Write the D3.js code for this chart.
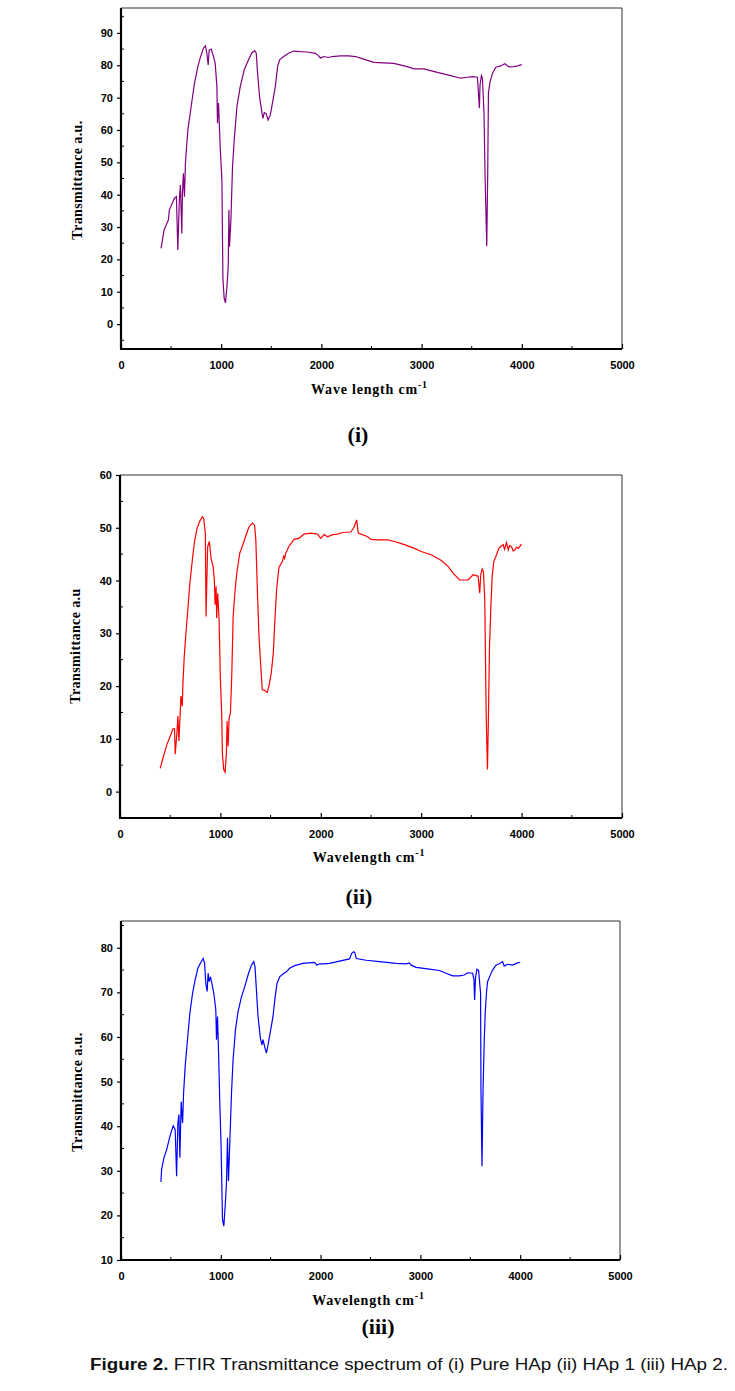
<!DOCTYPE html>
<html>
<head>
<meta charset="utf-8">
<style>
  body { margin: 0; background: #fff; }
  svg { display: block; }
  .tick text { font: bold 11px "Liberation Sans", Arial, sans-serif; fill: #000; }
  .ttl { font: bold 14px "Liberation Serif", "Times New Roman", serif; fill: #000; }
  .tag { font: bold 22px "Liberation Serif", "Times New Roman", serif; fill: #000; }
  .cap { font: 16px "Liberation Sans Narrow", "Arial Narrow", "Liberation Sans", Arial, sans-serif; fill: #111; }
</style>
<script src="https://d3js.org/d3.v7.min.js"></script>
</head>
<body>
<script>
// (i) Pure HAp
var waveI = [400,430,473,483,533,553,567,583,593,607,613,623,633,643,667,700,733,767,790,823,843,857,870,880,900,923,940,957,963,973,990,1007,1017,1030,1043,1057,1070,1077,1083,1097,1113,1130,1157,1190,1230,1273,1307,1333,1350,1363,1383,1407,1417,1430,1450,1467,1490,1517,1540,1563,1583,1623,1673,1723,1790,1857,1940,1973,1990,2023,2073,2107,2190,2273,2340,2390,2523,2723,2857,2923,3023,3157,3290,3390,3457,3507,3557,3577,3583,3597,3607,3623,3633,3650,3660,3667,3683,3707,3740,3790,3830,3873,3923,3957,4000];
var transI = [23.4,29.1,32.2,35.3,38.9,39.4,22.9,38.9,43.0,28.0,40.4,46.6,39.4,49.7,60.0,67.2,74.4,79.6,82.2,85.3,86.0,83.7,80.1,84.7,85.0,82.7,80.6,73.4,62.1,68.3,54.8,44.5,14.1,7.9,6.6,11.5,17.7,35.3,23.9,32.2,48.7,56.9,67.2,73.4,78.6,81.7,83.9,84.5,83.7,77.5,70.3,65.2,63.6,65.4,65.0,63.1,64.6,69.3,73.4,79.6,81.7,82.7,83.7,84.4,84.2,84.1,83.7,82.9,82.2,82.7,82.4,82.7,82.9,82.9,82.7,82.2,80.9,80.6,79.6,78.9,78.9,77.8,76.8,76.0,76.3,76.5,76.3,66.7,73.9,76.8,76.0,65.2,46.6,24.1,47.1,71.4,74.9,77.5,79.4,79.8,80.5,79.5,79.6,79.8,80.2];

// (ii) HAp 1
var waveII = [400,433,467,500,527,543,550,567,577,587,597,607,620,627,640,657,673,693,717,740,767,793,820,833,850,857,863,873,890,907,927,940,947,957,963,973,987,1000,1013,1020,1033,1047,1060,1067,1077,1087,1100,1113,1127,1147,1167,1193,1217,1250,1283,1317,1340,1353,1367,1383,1400,1417,1440,1467,1483,1507,1527,1543,1560,1583,1617,1630,1640,1650,1667,1680,1707,1733,1783,1833,1900,1967,2000,2033,2067,2117,2167,2217,2300,2333,2357,2373,2467,2500,2567,2667,2733,2833,2933,3000,3100,3200,3267,3317,3383,3467,3517,3567,3583,3593,3607,3620,3633,3647,3660,3670,3680,3693,3707,3723,3743,3773,3800,3817,3830,3850,3867,3880,3900,3915,3933,3950,3967,4000];
var transII = [4.4,6.7,8.9,10.5,11.9,11.9,7.1,11.2,14.3,9.6,13.7,18.1,16.2,20.6,25.6,30.1,33.8,38.9,43.3,47.1,49.9,51.2,52.1,51.8,49.0,33.2,38.3,46.4,47.4,44.2,42.7,40.1,35.4,38.9,32.9,37.6,32.6,21.2,14.6,7.1,4.2,3.7,7.4,13.4,8.6,14.0,14.9,21.9,33.2,38.3,42.0,45.2,46.4,48.3,50.1,50.9,50.5,47.7,38.9,30.1,24.4,19.3,19.2,18.8,20.0,22.5,26.3,32.6,38.3,42.5,43.6,44.6,44.2,45.2,45.8,46.4,47.1,47.8,48.0,48.8,49.0,48.8,48.0,48.7,48.3,48.7,48.8,49.1,49.2,50.2,51.5,49.0,48.3,47.8,47.7,47.7,47.4,46.8,46.1,45.5,44.9,43.8,42.7,41.4,40.1,40.1,41.1,40.8,37.6,41.1,42.2,41.7,36.4,14.6,4.2,14.6,27.2,34.5,40.8,43.6,44.5,46.1,46.6,46.8,45.9,47.2,45.8,46.6,46.4,45.6,45.8,46.3,46.1,46.9];

// (iii) HAp 2
var waveIII = [400,407,430,457,490,523,543,557,570,580,590,603,617,627,643,663,690,717,743,770,797,823,837,850,863,873,883,897,917,930,950,957,967,977,990,1003,1017,1030,1043,1057,1067,1077,1090,1107,1123,1147,1173,1207,1240,1273,1307,1330,1343,1357,1373,1397,1413,1423,1443,1457,1473,1500,1523,1543,1563,1590,1623,1657,1690,1740,1823,1940,1963,1990,2040,2090,2190,2290,2310,2330,2343,2357,2457,2590,2757,2857,2890,2907,2957,3090,3190,3257,3323,3390,3440,3473,3523,3537,3543,3553,3567,3583,3603,3607,3617,3627,3640,3650,3663,3673,3697,3723,3757,3790,3823,3840,3873,3923,3973,4000];
var transIII = [27.5,30.3,32.9,34.7,37.7,40.1,39.2,28.8,40.7,42.6,32.9,45.5,40.7,47.4,53.4,58.6,65.3,69.8,72.8,75.4,76.6,77.6,76.6,72.0,70.2,74.3,72.4,73.5,71.3,69.8,66.1,59.4,64.6,57.1,45.2,35.5,19.1,17.6,21.7,27.3,37.4,27.7,36.2,47.4,54.9,61.6,65.7,69.0,71.3,73.9,76.1,76.9,75.7,70.5,64.6,59.7,58.2,59.4,57.5,56.4,58.2,61.6,64.6,68.7,72.0,73.5,74.1,74.6,75.4,76.0,76.5,76.7,76.1,76.4,76.4,76.5,77.0,77.5,78.7,79.1,78.9,77.6,77.2,76.9,76.5,76.4,76.6,76.1,75.6,75.2,74.9,74.3,73.7,73.7,73.9,74.4,74.3,72.8,68.3,73.5,75.2,74.9,69.8,47.8,31.0,47.4,59.4,65.7,70.2,72.4,73.7,75.0,76.1,76.4,76.9,75.9,76.3,76.1,76.6,76.7];

var xTicks = [0, 1000, 2000, 3000, 4000, 5000];
var yTicksI = [0, 10, 20, 30, 40, 50, 60, 70, 80, 90];
var yTicksII = [0, 10, 20, 30, 40, 50, 60];
var yTicksIII = [10, 20, 30, 40, 50, 60, 70, 80];

var W = 735, H = 1391;
var svg = d3.select("body").append("svg").attr("width", W).attr("height", H);

var panels = [
  { wave: waveI, trans: transI, color: "#800080", yTicks: yTicksI,
    yDom: [-7.7, 97.7], xr: [121, 622], yr: [349, 8],
    xTitle: "Wave length cm", yTitle: "Transmittance a.u.", tag: "(i)",
    xtY: 394, ytX: 82, ytY: 180, tagX: 358, tagY: 442 },
  { wave: waveII, trans: transII, color: "#ff0000", yTicks: yTicksII,
    yDom: [-5, 60], xr: [120, 622], yr: [818, 475],
    xTitle: "Wavelength cm", yTitle: "Transmittance a.u", tag: "(ii)",
    xtY: 862, ytX: 80, ytY: 646, tagX: 359, tagY: 904 },
  { wave: waveIII, trans: transIII, color: "#0000ff", yTicks: yTicksIII,
    yDom: [10, 86], xr: [121, 620], yr: [1260, 921],
    xTitle: "Wavelength cm", yTitle: "Transmittance a.u.", tag: "(iii)",
    xtY: 1305, ytX: 82, ytY: 1092, tagX: 378, tagY: 1334 }
];

panels.forEach(function(p) {
  var x = d3.scaleLinear().domain([0, 5000]).range(p.xr);
  var y = d3.scaleLinear().domain(p.yDom).range(p.yr);
  var g = svg.append("g");

  // thin top / right frame
  g.append("path")
    .attr("d", "M" + x(0) + "," + y(p.yDom[1]) + "H" + x(5000) + "V" + y(p.yDom[0]))
    .attr("fill", "none").attr("stroke", "#333").attr("stroke-width", 1);

  // minor ticks (inside)
  var xMinor = d3.range(500, 5000, 1000);
  g.selectAll(".xm").data(xMinor).enter().append("line")
    .attr("x1", function(d) { return x(d); }).attr("x2", function(d) { return x(d); })
    .attr("y1", y(p.yDom[0])).attr("y2", y(p.yDom[0]) - 3)
    .attr("stroke", "#000").attr("stroke-width", 1);
  var yMinor = d3.range(Math.ceil(p.yDom[0] / 5) * 5, p.yDom[1], 5)
    .filter(function(v) { return v % 10 !== 0; });
  g.selectAll(".ym").data(yMinor).enter().append("line")
    .attr("x1", x(0)).attr("x2", x(0) + 3)
    .attr("y1", function(d) { return y(d); }).attr("y2", function(d) { return y(d); })
    .attr("stroke", "#000").attr("stroke-width", 1);

  // axes
  var xa = g.append("g").attr("transform", "translate(0," + y(p.yDom[0]) + ")")
    .call(d3.axisBottom(x).tickValues(xTicks).tickSize(-5).tickPadding(12).tickFormat(d3.format("d")));
  var ya = g.append("g").attr("transform", "translate(" + x(0) + ",0)")
    .call(d3.axisLeft(y).tickValues(p.yTicks).tickSize(4).tickPadding(4).tickFormat(d3.format("d")));
  [xa, ya].forEach(function(a) {
    a.select(".domain").attr("stroke", "#000").attr("stroke-width", 2.2);
    a.selectAll(".tick line").attr("stroke", "#000").attr("stroke-width", 1.2);
  });
  xa.select(".domain").attr("d", "M" + (x(0) - 1) + ",0H" + x(5000));
  ya.select(".domain").attr("d", "M0," + y(p.yDom[0]) + "V" + y(p.yDom[1]));

  // spectrum
  var line = d3.line()
    .x(function(d, i) { return x(p.wave[i]); })
    .y(function(d) { return y(d); });
  g.append("path").datum(p.trans)
    .attr("d", line)
    .attr("fill", "none").attr("stroke", p.color).attr("stroke-width", 1.2);

  // titles
  var xt = g.append("text").attr("class", "ttl")
    .attr("x", (p.xr[0] + p.xr[1]) / 2 - 2).attr("y", p.xtY)
    .attr("text-anchor", "middle").style("letter-spacing", "0.8px");
  xt.append("tspan").text(p.xTitle);
  xt.append("tspan").attr("dy", -6).style("font-size", "10px").text("-1");

  g.append("text").attr("class", "ttl")
    .attr("transform", "translate(" + p.ytX + "," + p.ytY + ") rotate(-90)")
    .attr("text-anchor", "middle").style("letter-spacing", "0.4px")
    .text(p.yTitle);

  g.append("text").attr("class", "tag")
    .attr("x", p.tagX).attr("y", p.tagY).attr("text-anchor", "middle")
    .text(p.tag);
});

// caption
var cap = svg.append("text").attr("class", "cap").attr("x", 90).attr("y", 1370);
cap.append("tspan").style("font-weight", "bold").text("Figure 2.");
cap.append("tspan").text(" FTIR Transmittance spectrum of (i) Pure HAp (ii) HAp 1 (iii) HAp 2.");
var capW = cap.node().getComputedTextLength();
if (capW > 0) cap.attr("textLength", 638).attr("lengthAdjust", "spacingAndGlyphs");
</script>
</body>
</html>
